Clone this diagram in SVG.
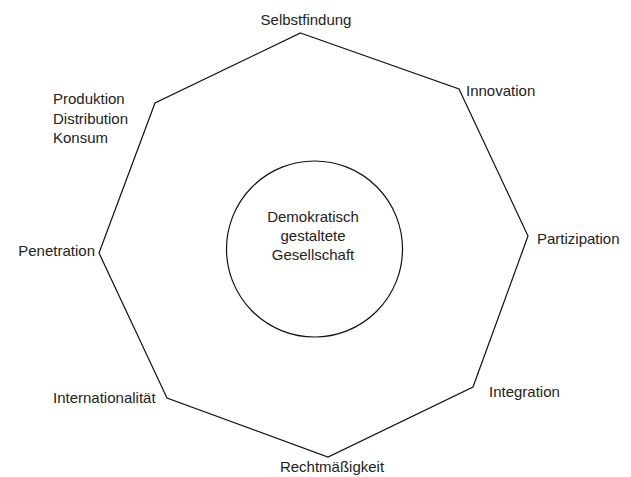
<svg xmlns="http://www.w3.org/2000/svg" width="631" height="477" viewBox="0 0 631 477">
<style>
.t{font-family:"Liberation Sans",Arial,sans-serif;font-size:15px;fill:#222}
.ln{fill:none;stroke:#111;stroke-width:1.2;stroke-linejoin:miter}
</style>
<rect width="631" height="477" fill="#fff"/>
<g id="connectors">
<polygon class="ln" points="300.5,33 459,89 528,236 473,387 328,457 167,398 99,253 155,103"/>
</g>
<g id="center">
<ellipse class="ln" cx="314.5" cy="249" rx="88" ry="88"/>
<text class="t" text-anchor="middle" x="313" y="222">Demokratisch</text>
<text class="t" text-anchor="middle" x="313" y="241">gestaltete</text>
<text class="t" text-anchor="middle" x="313" y="260">Gesellschaft</text>
</g>
<g id="selbstfindung"><text class="t" text-anchor="middle" x="306" y="25">Selbstfindung</text></g>
<g id="innovation"><text class="t" x="466" y="96">Innovation</text></g>
<g id="partizipation"><text class="t" x="537" y="244">Partizipation</text></g>
<g id="integration"><text class="t" x="489" y="397">Integration</text></g>
<g id="rechtmaessigkeit"><text class="t" text-anchor="middle" x="332" y="472">Rechtmäßigkeit</text></g>
<g id="internationalitaet"><text class="t" x="53" y="403">Internationalität</text></g>
<g id="penetration"><text class="t" text-anchor="end" x="95" y="256">Penetration</text></g>
<g id="produktion">
<text class="t" x="53" y="104">Produktion</text>
<text class="t" x="53" y="123.5">Distribution</text>
<text class="t" x="53" y="143">Konsum</text>
</g>
</svg>
